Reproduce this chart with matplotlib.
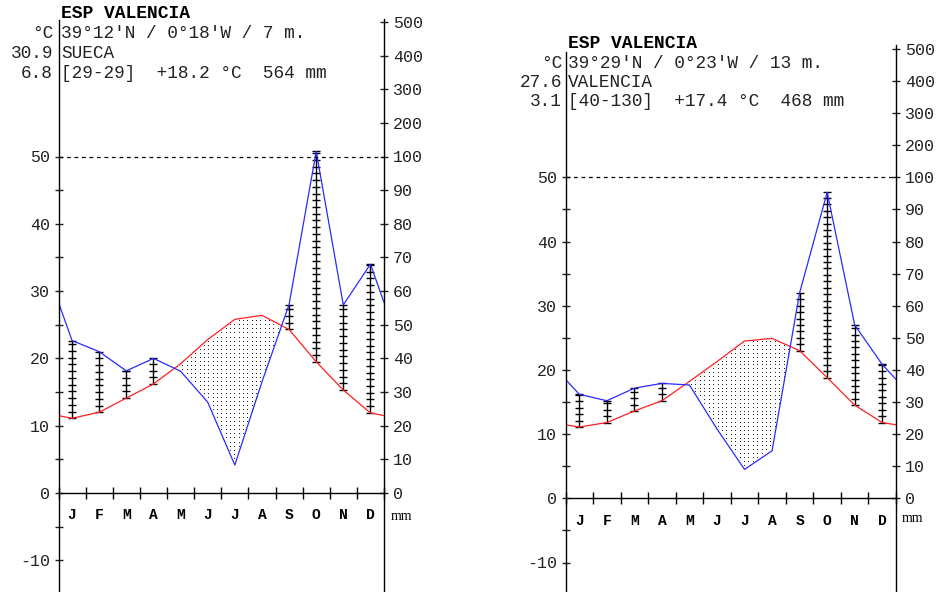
import numpy as np
import matplotlib
matplotlib.use('Agg')
import matplotlib.pyplot as plt

plt.rcParams['font.family'] = ['Liberation Mono', 'DejaVu Sans Mono']

months = ['J', 'F', 'M', 'A', 'M', 'J', 'J', 'A', 'S', 'O', 'N', 'D']

# Sueca (left diagram)
sueca_temp = [11.1, 12.0, 14.1, 16.2, 19.2, 22.8, 25.8, 26.4, 24.3, 19.5, 15.3, 11.9]
sueca_prec = [45.3, 42.0, 36.3, 40.0, 36.2, 27.0, 8.3, 33.0, 56.0, 115.0, 55.9, 68.0]
sueca_head = ['ESP VALENCIA', "39\u00b012'N / 0\u00b018'W / 7 m.", 'SUECA',
              '[29-29]  +18.2 \u00b0C  564 mm']
sueca_side = ['\u00b0C', '30.9', '6.8']

# Valencia (right diagram)
valencia_temp = [11.1, 11.8, 13.6, 15.2, 18.2, 21.3, 24.5, 24.9, 23.0, 18.8, 14.5, 11.8]
valencia_prec = [32.4, 30.4, 34.3, 35.8, 35.3, 21.6, 9.0, 14.8, 64.0, 95.3, 54.0, 41.7]
valencia_head = ['ESP VALENCIA', "39\u00b029'N / 0\u00b023'W / 13 m.", 'VALENCIA',
                 '[40-130]  +17.4 \u00b0C  468 mm']
valencia_side = ['\u00b0C', '27.6', '3.1']

temp_ticks = np.arange(-10, 51, 5)
prec_ticks = [0, 10, 20, 30, 40, 50, 60, 70, 80, 90, 100, 200, 300, 400, 500]

W, H = 936., 592.


def p2t(p):
    p = np.asarray(p, dtype=float)
    return np.where(p <= 100, p / 2., 50 + (p - 100) / 20.)


def t2p(t):
    t = np.asarray(t, dtype=float)
    return np.where(t <= 50, t * 2., 100 + (t - 50) * 20.)


def diagram(fig, temp, prec, head, side, x0, x1, yzero, pxdeg, top, ltop,
            hx, hy, sx, mmxy):
    ybot = -(H - yzero) / pxdeg
    ytop = (yzero - top) / pxdeg
    ax = fig.add_axes([x0 / W, 0, (x1 - x0) / W, (H - top) / H])
    ax.set_xlim(0, 12)
    ax.set_ylim(ybot, ytop)

    x = np.arange(12) + 0.5
    edge_t = (temp[0] + temp[-1]) / 2.
    edge_p = (prec[0] + prec[-1]) / 2.
    xe = np.concatenate([[0], x, [12]])
    te = np.concatenate([[edge_t], temp, [edge_t]])
    pe = p2t(np.concatenate([[edge_p], prec, [edge_p]]))

    # arid period: stipple
    gx, gy = np.meshgrid(np.arange(0.08, 12, 0.16), np.arange(0.3, 50, 0.6))
    ti = np.interp(gx, xe, te)
    pi = np.interp(gx, xe, pe)
    m = (gy < ti - 0.3) & (gy > pi + 0.3)
    ax.plot(gx[m], gy[m], ',', color='#222222')

    # humid period: ladders
    for xi, t, p in zip(x, temp, p2t(prec)):
        if p > t:
            ax.vlines(xi, t, p, color='k', lw=1.0)
            ys = np.append(np.arange(t, p, 1.0), p)
            ax.plot(np.full(len(ys), xi), ys, ls='none', marker='_',
                    ms=5.5, mew=1.0, color='k')

    ax.plot(xe, te, color='#ff2020', lw=0.9)
    ax.plot(xe, pe, color='#2a2aff', lw=0.9)
    ax.axhline(50, color='k', lw=0.9, ls=(0, (3, 3)))

    ax.spines['top'].set_visible(False)
    ax.spines['right'].set_visible(False)
    ax.spines['left'].set_bounds(ybot, (yzero - ltop) / pxdeg)
    ax.spines['bottom'].set_position(('data', 0))
    for s in ['left', 'bottom']:
        ax.spines[s].set_linewidth(1.0)

    ax.set_xticks(np.arange(13))
    ax.set_xticklabels([])
    ax.set_xticks(x, minor=True)
    ax.set_xticklabels(months, minor=True, fontsize=10.5, fontweight='bold')
    ax.tick_params(axis='x', which='major', direction='inout', length=8, width=1)
    ax.tick_params(axis='x', which='minor', length=0, pad=11)

    ax.set_yticks(temp_ticks)
    ax.set_yticklabels([str(v) if v % 10 == 0 else '' for v in temp_ticks])
    ax.tick_params(axis='y', direction='inout', length=6, width=1,
                   pad=3.0, labelsize=12, colors='#222222')

    sec = ax.secondary_yaxis('right', functions=(t2p, p2t))
    sec.set_yticks(prec_ticks)
    sec.set_yticklabels([str(v) for v in prec_ticks])
    sec.tick_params(direction='inout', length=6, width=1, pad=3.4,
                    labelsize=12, colors='#222222')
    sec.spines['right'].set_linewidth(1.0)

    fig.text(hx / W, 1 - hy[0] / H, head[0], fontsize=13, fontweight='bold',
             ha='left', va='center')
    for i in range(3):
        fig.text(hx / W, 1 - hy[i + 1] / H, head[i + 1], fontsize=12.8,
                 ha='left', va='center', color='#222222')
        fig.text(sx / W, 1 - hy[i + 1] / H, side[i], fontsize=12.8,
                 ha='right', va='center', color='#222222')
    fig.text(mmxy[0] / W, 1 - mmxy[1] / H, 'mm', fontsize=10,
             family='Liberation Serif', ha='left', va='center')
    return ax


fig = plt.figure(figsize=(9.36, 5.92), dpi=100)

diagram(fig, sueca_temp, sueca_prec, sueca_head, sueca_side,
        58.5, 384, 493, 6.73, 19, 20,
        61, [14, 34, 54, 74], 53, (391, 516))
diagram(fig, valencia_temp, valencia_prec, valencia_head, valencia_side,
        565.5, 896, 498.3, 6.42, 45, 52,
        568, [43, 63, 82.5, 101.5], 562, (902, 519))

fig.savefig('out.png', dpi=100)
